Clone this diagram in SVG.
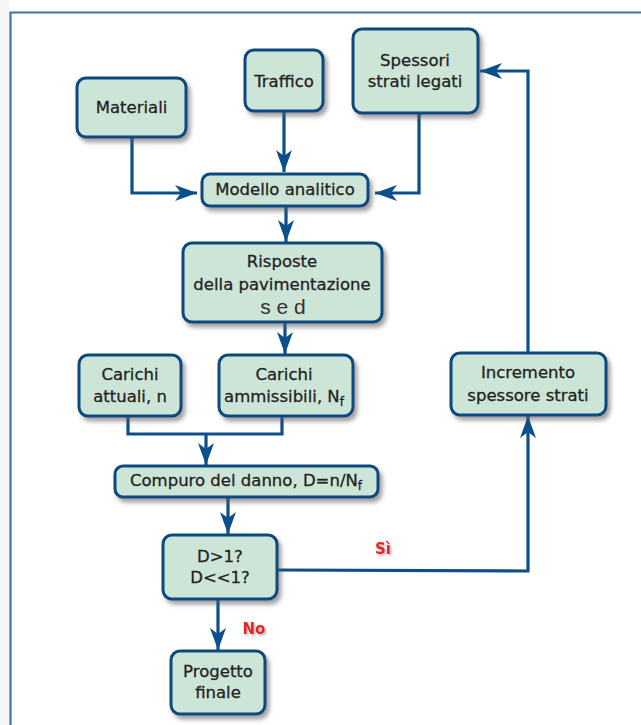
<svg xmlns="http://www.w3.org/2000/svg" width="641" height="725" viewBox="0 0 641 725">
<defs>
<filter id="sh" x="-20%" y="-20%" width="140%" height="150%">
<feDropShadow dx="3" dy="4" stdDeviation="2" flood-color="#555" flood-opacity="0.55"/>
</filter>
<filter id="tsh" x="-20%" y="-20%" width="150%" height="150%">
<feDropShadow dx="1.5" dy="1.5" stdDeviation="1" flood-color="#777" flood-opacity="0.6"/>
</filter>
<marker id="ah" viewBox="0 0 22 16" refX="22" refY="8" markerWidth="22" markerHeight="16" markerUnits="userSpaceOnUse" orient="auto">
<path d="M0,0 L22,8 L0,16 L6,8 Z" fill="#0d4f8b"/>
</marker>
<style>
.box{fill:#cde5d6;stroke:#0b4a80;stroke-width:3;filter:url(#sh)}
.t{font-family:"DejaVu Sans","Liberation Sans",sans-serif;font-size:16.5px;fill:#232323;text-anchor:middle;stroke:#232323;stroke-width:0.3}
.c{fill:none;stroke:#0d4f8b;stroke-width:3.2}
.lbl{font-family:"DejaVu Sans",sans-serif;font-size:15px;font-weight:bold;fill:#e3262b;text-anchor:middle;filter:url(#tsh)}
</style>
</defs>
<rect x="0" y="0" width="641" height="725" fill="#fff"/>
<rect x="0" y="0" width="9" height="725" fill="#f6f6f6"/>
<path d="M10.5,725 V12.5 H641" fill="none" stroke="#3e74a6" stroke-width="2.2"/>

<g id="connectors">
<path class="c" d="M132,137 V193 H197" marker-end="url(#ah)"/>
<path class="c" d="M284,111 V172" marker-end="url(#ah)"/>
<path class="c" d="M419,113 V193 H375" marker-end="url(#ah)"/>
<path class="c" d="M286,206 V242" marker-end="url(#ah)"/>
<path class="c" d="M285,322 V354" marker-end="url(#ah)"/>
<path class="c" d="M128,416 V434 H282 V416"/>
<path class="c" d="M206,434 V465" marker-end="url(#ah)"/>
<path class="c" d="M228,497 V534" marker-end="url(#ah)"/>
<path class="c" d="M277,570 L528,571 V416" marker-end="url(#ah)"/>
<path class="c" d="M528,353 V71 H480" marker-end="url(#ah)"/>
<path class="c" d="M218,599 V650" marker-end="url(#ah)"/>
</g>

<g id="n-materiali"><rect class="box" x="77" y="78" width="109" height="59" rx="9"/><text class="t" x="131.5" y="113">Materiali</text></g>
<g id="n-traffico"><rect class="box" x="245" y="50" width="78" height="61" rx="9"/><text class="t" x="284" y="87">Traffico</text></g>
<g id="n-spessori"><rect class="box" x="353" y="29" width="125" height="84" rx="9"/><text class="t" x="415" y="66">Spessori</text><text class="t" x="415" y="87">strati legati</text></g>
<g id="n-modello"><rect class="box" x="202" y="174" width="166" height="32" rx="8"/><text class="t" x="285" y="195">Modello analitico</text></g>
<g id="n-risposte"><rect class="box" x="183" y="243" width="199" height="79" rx="9"/><text class="t" x="282" y="267">Risposte</text><text class="t" x="282" y="290">della pavimentazione</text><text x="283" y="314" font-family="Liberation Sans,sans-serif" font-size="21" fill="#333" text-anchor="middle">s e d</text></g>
<g id="n-attuali"><rect class="box" x="79" y="355" width="102" height="61" rx="9"/><text class="t" x="130" y="380">Carichi</text><text class="t" x="130" y="402">attuali, n</text></g>
<g id="n-ammissibili"><rect class="box" x="219" y="355" width="134" height="61" rx="9"/><text class="t" x="284" y="380">Carichi</text><text class="t" x="284" y="402">ammissibili, N<tspan font-size="12" dy="4">f</tspan></text></g>
<g id="n-compuro"><rect class="box" x="115" y="466" width="263" height="31" rx="8"/><text class="t" x="246" y="486">Compuro del danno, D=n/N<tspan font-size="12" dy="4">f</tspan></text></g>
<g id="n-decisione"><rect class="box" x="163" y="535" width="114" height="64" rx="9"/><text class="t" x="220" y="562">D&gt;1?</text><text class="t" x="220" y="583">D&lt;&lt;1?</text></g>
<g id="n-progetto"><rect class="box" x="171" y="651" width="94" height="63" rx="9"/><text class="t" x="218" y="677">Progetto</text><text class="t" x="218" y="698">finale</text></g>
<g id="n-incremento"><rect class="box" x="451" y="353" width="155" height="62" rx="9"/><text class="t" x="528" y="378">Incremento</text><text class="t" x="528" y="401">spessore strati</text></g>

<text class="lbl" x="383" y="554">Sì</text>
<text class="lbl" x="254" y="634">No</text>
</svg>
